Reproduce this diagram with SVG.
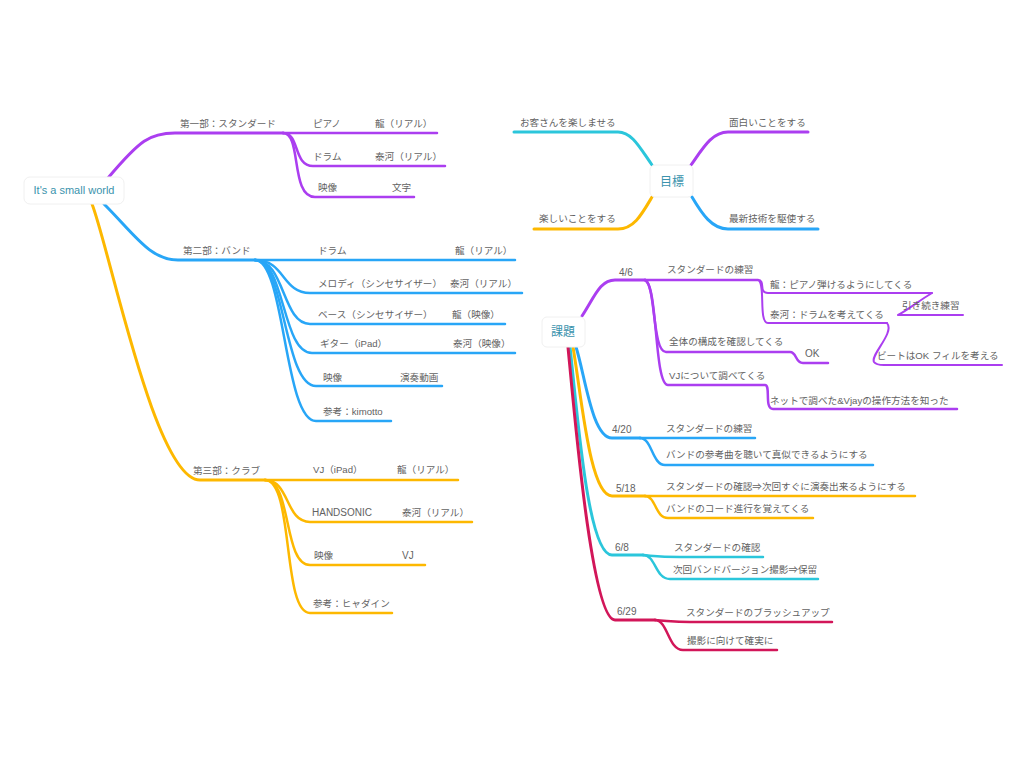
<svg xmlns="http://www.w3.org/2000/svg" width="1024" height="768" viewBox="0 0 1024 768">
<style>
text{font-family:"Liberation Sans","Noto Sans CJK JP",sans-serif;font-size:9.6px;fill:#626262}
.lt{font-size:10px}
.ct{font-size:11px;fill:#3b93ad}
.ct2{font-size:12px;fill:#3b93ad}
.box{fill:#fff;stroke:#f0f0f0;stroke-width:1}
path{fill:none;stroke-linecap:round;stroke-linejoin:round}
.w1{stroke-width:3}
.w2{stroke-width:2.5}
.w3{stroke-width:2}
.pu{stroke:#ab3ef0}
.bl{stroke:#28a6f7}
.or{stroke:#fdb800}
.cy{stroke:#2bc6db}
.cr{stroke:#d21659}
</style>
<rect width="1024" height="768" fill="#fff"/>
<g id="connectors">
<path class="pu w1" d="M108,178 C140,140 150,133 175,133 H283"/>
<path class="pu w2" d="M283,133 H437"/>
<path class="pu w2" d="M283,133 C300,133 293,166 313,166 H445"/>
<path class="pu w2" d="M283,133 C302,133 290,197 315,197 H414"/>
<path class="bl w1" d="M104,204 C135,235 150,260 178,260 H255"/>
<path class="bl w2" d="M255,260 H515"/>
<path class="bl w2" d="M255,260 C285,260 282,293 310,293 H522"/>
<path class="bl w2" d="M255,260 C285,260 282,324 310,324 H505"/>
<path class="bl w2" d="M255,260 C285,260 282,353 312,353 H515"/>
<path class="bl w2" d="M255,260 C285,260 284,386 316,386 H442"/>
<path class="bl w2" d="M255,260 C285,260 284,421 316,421 H391"/>
<path class="or w1" d="M92,204 C110,250 155,480 200,480 H265"/>
<path class="or w2" d="M265,480 H458"/>
<path class="or w2" d="M265,480 C290,480 285,522 310,522 H472"/>
<path class="or w2" d="M265,480 C292,480 283,565 310,565 H425"/>
<path class="or w2" d="M265,480 C294,480 282,613 310,613 H392"/>
<path class="cy w1" d="M652,165 C640,148 632,132 618,132 H514"/>
<path class="pu w1" d="M691,165 C703,148 712,132 728,132 H808"/>
<path class="or w1" d="M652,197 C642,214 634,229 618,229 H534"/>
<path class="bl w1" d="M692,197 C702,214 712,229 728,229 H818"/>
<path class="pu w1" d="M582,316 C595,296 600,280 615,280 H645"/>
<path class="pu w2" d="M645,280 H758"/>
<path class="pu w3" d="M758,280 C766,280 758,293 768,293 H932"/>
<path class="pu w3" d="M758,280 C766,282 758,323 768,323 H887"/>
<path class="pu w3" d="M932,293 C920,300 905,312 898,315 H963"/>
<path class="pu w3" d="M887,323 C895,333 870,355 874,362 Q876,365 884,365 H1002"/>
<path class="pu w2" d="M645,280 C656,285 652,352 666,352 H790 C797,352 795,363 803,363 H828"/>
<path class="pu w2" d="M645,280 C658,285 654,385 668,385 H765 C771,385 764,409 773,409 H957"/>
<path class="bl w1" d="M576,347 C585,375 592,438 612,438 H640"/>
<path class="bl w2" d="M640,438 H755"/>
<path class="bl w2" d="M640,438 C652,438 652,465 665,465 H873"/>
<path class="or w1" d="M573,347 C582,400 590,496 612,496 H645"/>
<path class="or w2" d="M645,496 H915"/>
<path class="or w2" d="M645,496 C656,496 655,518 668,518 H813"/>
<path class="cy w1" d="M570,347 C578,420 588,555 612,555 H643"/>
<path class="cy w2" d="M643,555 C655,556 660,557 680,557 H763"/>
<path class="cy w2" d="M643,555 C656,555 655,579 670,579 H818"/>
<path class="cr w1" d="M568,347 C575,420 592,620 615,620 H655"/>
<path class="cr w2" d="M655,620 C670,621 675,622 690,622 H832"/>
<path class="cr w2" d="M655,620 C668,620 668,650 683,650 H777"/>
</g>
<g id="root">
<rect class="box" x="24" y="177" width="100" height="27" rx="6"/>
<text class="ct" x="74" y="194" text-anchor="middle">It's a small world</text>
</g>
<g id="part1">
<text x="180" y="127">第一部：スタンダード</text>
<text x="313" y="127">ピアノ</text><text x="375" y="127">龍（リアル）</text>
<text x="313" y="160">ドラム</text><text x="375" y="160">泰河（リアル）</text>
<text x="318" y="191">映像</text><text x="392" y="191">文字</text>
</g>
<g id="part2">
<text x="183" y="254">第二部：バンド</text>
<text x="318" y="254">ドラム</text><text x="455" y="254">龍（リアル）</text>
<text x="318" y="287">メロディ（シンセサイザー）</text><text x="450" y="287">泰河（リアル）</text>
<text x="318" y="318">ベース（シンセサイザー）</text><text x="452" y="318">龍（映像）</text>
<text x="320" y="347">ギター（iPad）</text><text x="453" y="347">泰河（映像）</text>
<text x="323" y="381">映像</text><text x="400" y="381">演奏動画</text>
<text x="323" y="415">参考：kimotto</text>
</g>
<g id="part3">
<text x="193" y="474">第三部：クラブ</text>
<text x="313" y="473">VJ（iPad）</text><text x="397" y="473">龍（リアル）</text>
<text class="lt" x="312" y="516">HANDSONIC</text><text x="402" y="516">泰河（リアル）</text>
<text x="314" y="559">映像</text><text class="lt" x="402" y="559">VJ</text>
<text x="313" y="607">参考：ヒャダイン</text>
</g>
<g id="goal">
<rect class="box" x="650" y="165" width="43" height="32" rx="5"/>
<text class="ct2" x="672" y="186" text-anchor="middle">目標</text>
<text x="520" y="126">お客さんを楽しませる</text>
<text x="729" y="126">面白いことをする</text>
<text x="539" y="222">楽しいことをする</text>
<text x="729" y="222">最新技術を駆使する</text>
</g>
<g id="task">
<rect class="box" x="542" y="317" width="43" height="30" rx="5"/>
<text class="ct2" x="563" y="336" text-anchor="middle">課題</text>
</g>
<g id="t46">
<text class="lt" x="619" y="276">4/6</text>
<text x="667" y="273">スタンダードの練習</text>
<text x="770" y="288">龍：ピアノ弾けるようにしてくる</text>
<text x="902" y="309">引き続き練習</text>
<text x="770" y="318">泰河：ドラムを考えてくる</text>
<text x="877" y="359">ビートはOK フィルを考える</text>
<text x="669" y="345">全体の構成を確認してくる</text>
<text class="lt" x="805" y="357">OK</text>
<text x="669" y="379">VJについて調べてくる</text>
<text x="770" y="404">ネットで調べた&amp;Vjayの操作方法を知った</text>
</g>
<g id="t420">
<text class="lt" x="612" y="433">4/20</text>
<text x="666" y="432">スタンダードの練習</text>
<text x="666" y="458">バンドの参考曲を聴いて真似できるようにする</text>
</g>
<g id="t518">
<text class="lt" x="616" y="492">5/18</text>
<text x="666" y="490">スタンダードの確認⇒次回すぐに演奏出来るようにする</text>
<text x="666" y="512">バンドのコード進行を覚えてくる</text>
</g>
<g id="t68">
<text class="lt" x="615" y="551">6/8</text>
<text x="674" y="551">スタンダードの確認</text>
<text x="673" y="573">次回バンドバージョン撮影⇒保留</text>
</g>
<g id="t629">
<text class="lt" x="617" y="615">6/29</text>
<text x="686" y="616">スタンダードのブラッシュアップ</text>
<text x="687" y="644">撮影に向けて確実に</text>
</g>
</svg>
